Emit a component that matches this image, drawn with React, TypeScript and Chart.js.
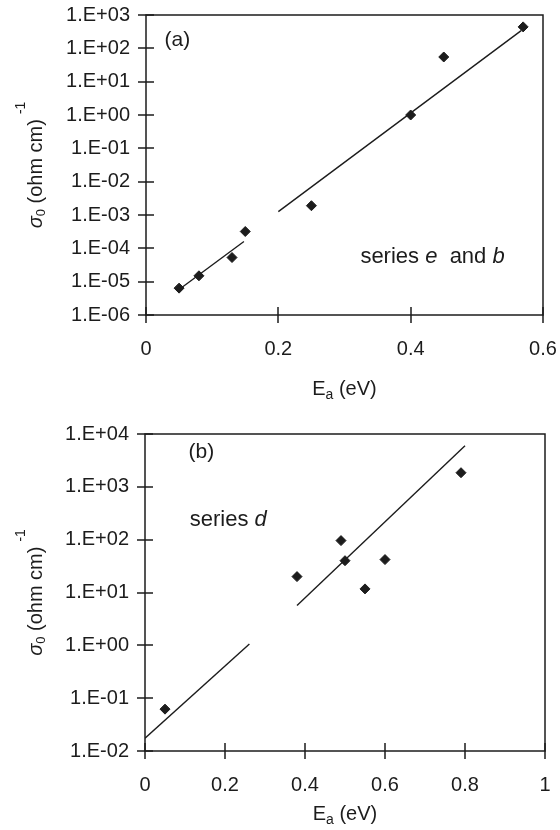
import React, { useEffect, useRef } from "react";
import { Chart, registerables } from "chart.js";
Chart.register(...registerables);

const FONT = '"Liberation Sans", Arial, Helvetica, sans-serif';
const INK = "#1c1c1c";

// ---------- Panel (a): series e and b ----------
const eaA = [0.05, 0.08, 0.13, 0.15, 0.25, 0.40, 0.45, 0.57];
const sigmaA = [6.4e-6, 1.5e-5, 5.3e-5, 3.2e-4, 1.9e-3, 1.0, 55, 440];
const fit1A_x = [0.049, 0.148];
const fit1A_y = [5.6e-6, 1.6e-4];
const fit2A_x = [0.2, 0.567];
const fit2A_y = [1.26e-3, 340];
const xTickLabelsA = ["0", "0.2", "0.4", "0.6"];
const yTickLabelsA = ["1.E-06", "1.E-05", "1.E-04", "1.E-03", "1.E-02", "1.E-01", "1.E+00", "1.E+01", "1.E+02", "1.E+03"];
const panelLabelA = "(a)";
const seriesLabelA = [
  { t: "series ", italic: false },
  { t: "e", italic: true },
  { t: "  and ", italic: false },
  { t: "b", italic: true },
];

// ---------- Panel (b): series d ----------
const eaB = [0.05, 0.38, 0.49, 0.50, 0.55, 0.60, 0.79];
const sigmaB = [0.062, 20, 96, 40, 11.7, 42, 1850];
const fit1B_x = [0.0, 0.261];
const fit1B_y = [0.0174, 1.06];
const fit2B_x = [0.38, 0.80];
const fit2B_y = [5.65, 6000];
const xTickLabelsB = ["0", "0.2", "0.4", "0.6", "0.8", "1"];
const yTickLabelsB = ["1.E-02", "1.E-01", "1.E+00", "1.E+01", "1.E+02", "1.E+03", "1.E+04"];
const panelLabelB = "(b)";
const seriesLabelB = [
  { t: "series ", italic: false },
  { t: "d", italic: true },
];

// axis titles
const yTitleParts = [
  { t: "\u03c3", size: 20, italic: true, dy: 0, dx: 0 },
  { t: "0", size: 13, italic: false, dy: 5, dx: 0 },
  { t: " (ohm cm)", size: 20, italic: false, dy: 0, dx: 0 },
  { t: "-1", size: 14, italic: false, dy: -15, dx: 5 },
];
const xTitleParts = [
  { t: "E", size: 20, italic: false, dy: 0, dx: 0 },
  { t: "a", size: 14, italic: false, dy: 6, dx: 0 },
  { t: " (eV)", size: 20, italic: false, dy: 0, dx: 0 },
];

function fontOf(size: number, italic: boolean) {
  return `${italic ? "italic " : ""}${size}px ${FONT}`;
}

function drawParts(ctx: CanvasRenderingContext2D, parts: any[], x0: number, y0: number, center: boolean) {
  let total = 0;
  const widths = parts.map((p) => {
    ctx.font = fontOf(p.size, p.italic);
    const w = ctx.measureText(p.t).width + (p.dx || 0);
    total += w;
    return w;
  });
  let x = center ? x0 - total / 2 : x0;
  parts.forEach((p, i) => {
    ctx.font = fontOf(p.size, p.italic);
    ctx.fillText(p.t, x + (p.dx || 0), y0 + (p.dy || 0));
    x += widths[i];
  });
}

type PanelCfg = {
  height: number;
  xs: number[];
  ys: number[];
  fits: { x: number[]; y: number[] }[];
  xMax: number;
  xTickLabels: string[];
  yTickLabels: string[];
  yAxisWidth: number;
  xAxisHeight: number;
  padTop: number;
  padRight: number;
  yTitleX: number;
  xTitleOffset: number;
  panelLabel: string;
  panelAt: { x: number; y: number };
  seriesLabel: { t: string; italic: boolean }[];
  seriesAt: { x: number; y: number };
};

const TICK = 8;

function Panel({ cfg }: { cfg: PanelCfg }) {
  const ref = useRef<HTMLCanvasElement | null>(null);
  useEffect(() => {
    if (!ref.current) return;
    const xTickValues = cfg.xTickLabels.map((s) => Number(s));
    const yTickValues = cfg.yTickLabels.map((s) => Number(s));

    const decor = {
      id: "decor",
      afterDraw(chart: any) {
        const ctx: CanvasRenderingContext2D = chart.ctx;
        const a = chart.chartArea;
        const xs = chart.scales.x;
        const ys = chart.scales.y;
        ctx.save();
        ctx.strokeStyle = INK;
        ctx.lineWidth = 1.5;
        ctx.beginPath();
        xs.ticks.forEach((t: any) => {
          const px = Math.round(xs.getPixelForValue(t.value));
          ctx.moveTo(px, a.bottom + TICK);
          ctx.lineTo(px, a.bottom - TICK);
        });
        ys.ticks.forEach((t: any) => {
          const py = Math.round(ys.getPixelForValue(t.value));
          ctx.moveTo(a.left - TICK, py);
          ctx.lineTo(a.left + TICK, py);
        });
        ctx.stroke();
        ctx.strokeRect(a.left, a.top, a.right - a.left, a.bottom - a.top);

        ctx.fillStyle = INK;
        ctx.textBaseline = "middle";
        ctx.textAlign = "left";
        drawParts(
          ctx,
          [{ t: cfg.panelLabel, size: 21, italic: false }],
          xs.getPixelForValue(cfg.panelAt.x),
          ys.getPixelForValue(cfg.panelAt.y),
          false
        );
        drawParts(
          ctx,
          cfg.seriesLabel.map((p) => ({ t: p.t, size: 22, italic: p.italic })),
          xs.getPixelForValue(cfg.seriesAt.x),
          ys.getPixelForValue(cfg.seriesAt.y),
          false
        );
        drawParts(ctx, xTitleParts, (a.left + a.right) / 2, a.bottom + cfg.xTitleOffset, true);
        ctx.translate(cfg.yTitleX, (a.top + a.bottom) / 2);
        ctx.rotate(-Math.PI / 2);
        drawParts(ctx, yTitleParts, 0, 0, true);
        ctx.restore();
      },
    };

    const chart = new Chart(ref.current, {
      type: "scatter",
      data: {
        datasets: [
          {
            data: cfg.xs.map((x, i) => ({ x, y: cfg.ys[i] })),
            showLine: false,
            pointStyle: "rectRot",
            pointRadius: 5,
            pointBackgroundColor: INK,
            pointBorderColor: INK,
            pointBorderWidth: 1,
          },
          ...cfg.fits.map((f) => ({
            data: f.x.map((x, i) => ({ x, y: f.y[i] })),
            showLine: true,
            pointRadius: 0,
            borderColor: INK,
            borderWidth: 1.4,
            fill: false,
          })),
        ],
      },
      options: {
        responsive: false,
        animation: false,
        devicePixelRatio: 1,
        layout: { padding: { top: cfg.padTop, right: cfg.padRight, left: 0, bottom: 0 } },
        plugins: { legend: { display: false }, tooltip: { enabled: false } },
        scales: {
          x: {
            type: "linear",
            min: 0,
            max: cfg.xMax,
            afterBuildTicks: (s: any) => {
              s.ticks = xTickValues.map((v) => ({ value: v }));
            },
            afterFit: (s: any) => {
              s.height = cfg.xAxisHeight;
            },
            grid: { display: false, drawOnChartArea: false, drawTicks: true, tickLength: 22 },
            border: { display: false },
            ticks: {
              padding: 0,
              color: INK,
              maxRotation: 0,
              font: { family: FONT, size: 20 },
              callback: (_v: any, i: number) => cfg.xTickLabels[i],
            },
          },
          y: {
            type: "logarithmic",
            min: yTickValues[0],
            max: yTickValues[yTickValues.length - 1],
            afterBuildTicks: (s: any) => {
              s.ticks = yTickValues.map((v) => ({ value: v }));
            },
            afterFit: (s: any) => {
              s.width = cfg.yAxisWidth;
            },
            grid: { display: false, drawOnChartArea: false, drawTicks: true, tickLength: 16 },
            border: { display: false },
            ticks: {
              padding: 0,
              color: INK,
              font: { family: FONT, size: 20 },
              callback: (_v: any, i: number) => cfg.yTickLabels[i],
            },
          },
        },
      } as any,
      plugins: [decor],
    });
    return () => chart.destroy();
  }, [cfg]);
  return <canvas ref={ref} width={560} height={cfg.height} style={{ display: "block", width: 560, height: cfg.height }} />;
}

const cfgA: PanelCfg = {
  height: 400,
  xs: eaA,
  ys: sigmaA,
  fits: [
    { x: fit1A_x, y: fit1A_y },
    { x: fit2A_x, y: fit2A_y },
  ],
  xMax: 0.6,
  xTickLabels: xTickLabelsA,
  yTickLabels: yTickLabelsA,
  yAxisWidth: 146,
  xAxisHeight: 85,
  padTop: 15,
  padRight: 17,
  yTitleX: 36,
  xTitleOffset: 74,
  panelLabel: panelLabelA,
  panelAt: { x: 0.028, y: 180 },
  seriesLabel: seriesLabelA,
  seriesAt: { x: 0.324, y: 5.6e-5 },
};

const cfgB: PanelCfg = {
  height: 430,
  xs: eaB,
  ys: sigmaB,
  fits: [
    { x: fit1B_x, y: fit1B_y },
    { x: fit2B_x, y: fit2B_y },
  ],
  xMax: 1,
  xTickLabels: xTickLabelsB,
  yTickLabels: yTickLabelsB,
  yAxisWidth: 145,
  xAxisHeight: 79,
  padTop: 34,
  padRight: 15,
  yTitleX: 36,
  xTitleOffset: 63,
  panelLabel: panelLabelB,
  panelAt: { x: 0.109, y: 4600 },
  seriesLabel: seriesLabelB,
  seriesAt: { x: 0.112, y: 235 },
};

export default function App() {
  return (
    <div style={{ position: "fixed", left: 0, top: 0, width: 560, height: 830, background: "#fff" }}>
      <Panel cfg={cfgA} />
      <Panel cfg={cfgB} />
    </div>
  );
}
